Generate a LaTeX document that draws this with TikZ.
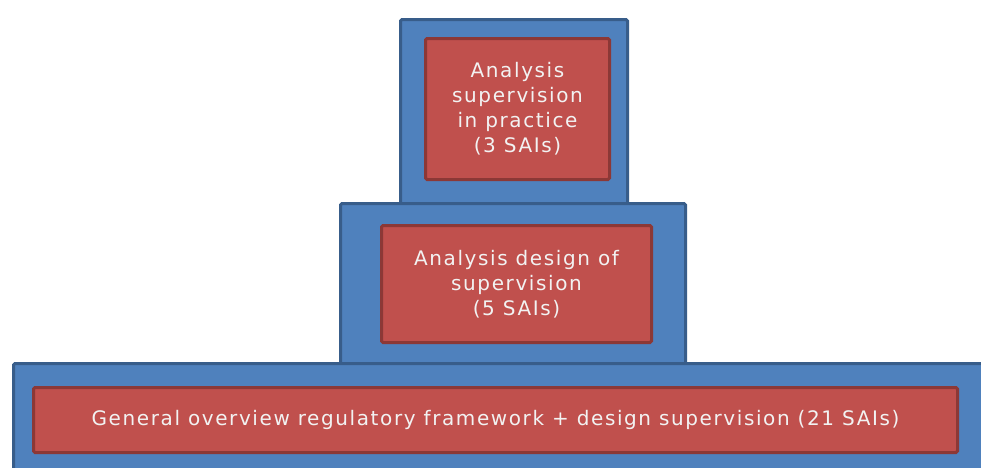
\documentclass[tikz,border=0pt]{standalone}
\usepackage{fontspec}
\setmainfont{DejaVu Sans}[LetterSpace=8]
\definecolor{tierblue}{HTML}{4F81BD}
\definecolor{tierline}{HTML}{385D8A}
\definecolor{studyred}{HTML}{C0504D}
\definecolor{studyline}{HTML}{8C3836}
\begin{document}
\begin{tikzpicture}[x=1pt,y=-1pt,
  tier/.style={draw=tierline, fill=tierblue, line width=3pt, rounded corners=1.5pt,
    anchor=north west, inner sep=0pt, minimum height=#1},
  study/.style={draw=studyline, fill=studyred, line width=3pt, rounded corners=1.5pt,
    anchor=north west, inner sep=0pt, text=white!95!black, align=center,
    font=\fontsize{20}{25}\selectfont}]
\useasboundingbox (0,0) rectangle (981,467);
\clip (0,0) rectangle (981,467);
% top level
\node[tier=212pt, minimum width=227pt] (toptier) at (399,18) {};
\node[study, minimum width=184pt, minimum height=141pt] (practice) at (424,37)
  {Analysis\\supervision\\in practice\\(3 SAIs)};
% middle level
\node[tier=168pt, minimum width=345pt] (midtier) at (339,202) {};
\node[study, minimum width=270pt, minimum height=117pt] (design) at (380,224)
  {Analysis design of\\supervision\\(5 SAIs)};
% bottom level
\node[tier=130pt, minimum width=990pt] (basetier) at (12,362) {};
\node[study, minimum width=924pt, minimum height=65pt] (overview) at (32,386)
  {General overview regulatory framework + design supervision (21 SAIs)};
\end{tikzpicture}
\end{document}
